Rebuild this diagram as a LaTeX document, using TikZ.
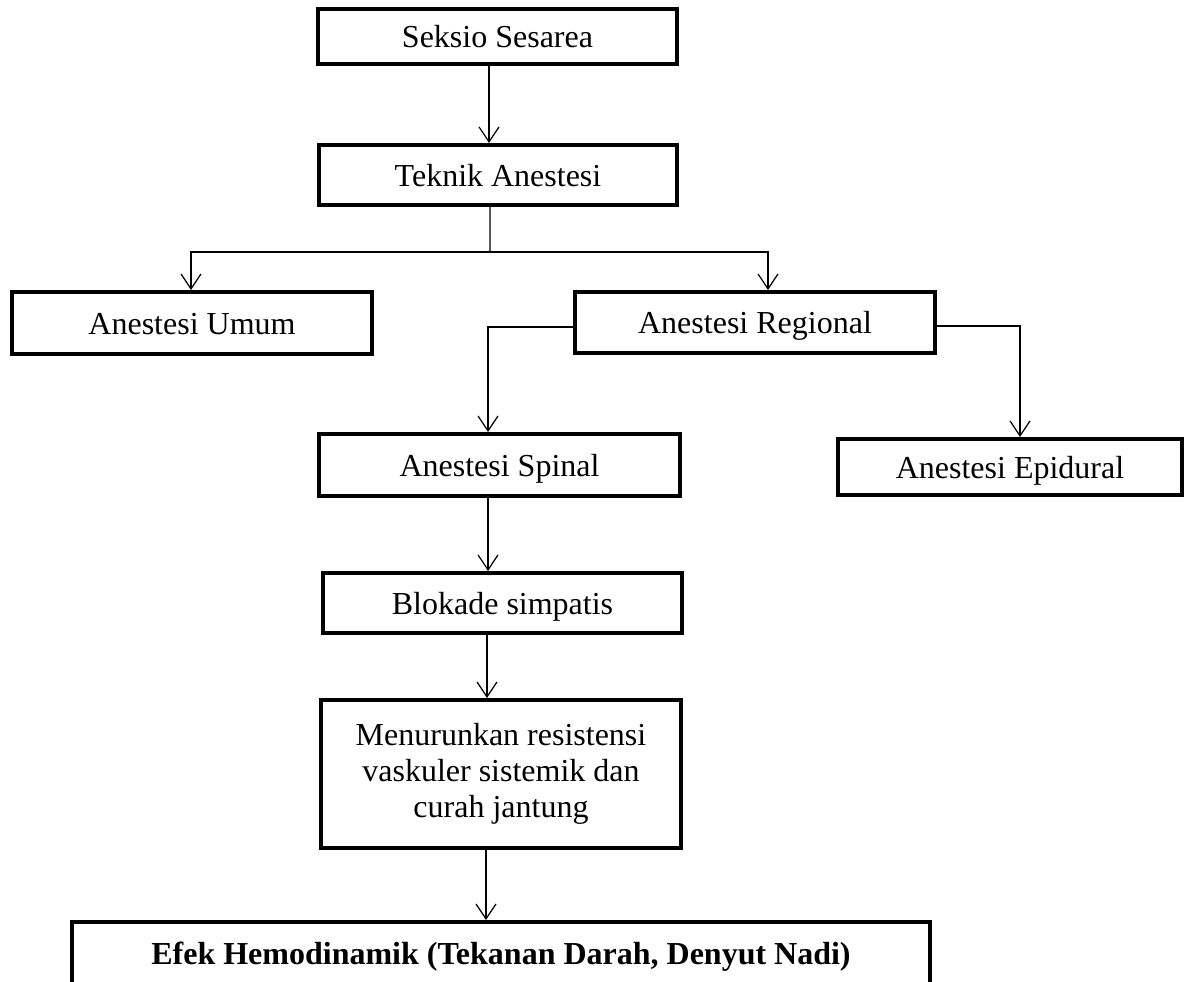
\documentclass[tikz,border=0pt]{standalone}
\usepackage{fontspec}
\setmainfont{Liberation Serif}
\usetikzlibrary{arrows.meta}
\begin{document}
\begin{tikzpicture}[x=1bp,y=-1bp,
  box/.style={draw, line width=4bp, inner sep=0pt, align=center,
    font=\fontsize{32bp}{36bp}\selectfont, text height=22bp, text depth=0pt},
  multibox/.style={draw, line width=4bp, inner sep=0pt, align=center,
    font=\fontsize{32bp}{36bp}\selectfont},
  conn/.style={line width=1.2bp},
  arr/.style={conn, -{Straight Barb[length=15bp,width=20bp]}}
]
\useasboundingbox (0,0) rectangle (1185,982);
\clip (0,0) rectangle (1185,982);
\fill[white] (0,0) rectangle (1185,982);

\node[box, minimum width=359bp, minimum height=55bp] (seksio) at (497.5,36.5) {Seksio Sesarea};
\node[box, minimum width=358bp, minimum height=60bp] (teknik) at (498,175) {Teknik Anestesi};
\node[box, minimum width=360bp, minimum height=62bp] (umum) at (192,323) {Anestesi Umum};
\node[box, minimum width=360bp, minimum height=61bp] (regional) at (755,322.5) {Anestesi Regional};
\node[box, minimum width=361bp, minimum height=62bp] (spinal) at (499.5,465) {Anestesi Spinal};
\node[box, minimum width=344bp, minimum height=56bp] (epidural) at (1010,467) {Anestesi Epidural};
\node[box, minimum width=359bp, minimum height=60bp] (blokade) at (502.5,603) {Blokade simpatis};
\node[multibox, minimum width=360bp, minimum height=148bp] (menurun) at (501,774) {Menurunkan resistensi\\vaskuler sistemik dan\\curah jantung};
\node[box, minimum width=858bp, minimum height=62bp] (efek) at (501,953) {\bfseries Efek Hemodinamik (Tekanan Darah, Denyut Nadi)};

\coordinate (bus) at (490,252);

\draw[arr] ([xshift=-8.5bp]seksio.south) -- ([xshift=-8.5bp]seksio.south |- teknik.north);
\draw[conn] ([xshift=-8bp]teknik.south) -- (bus);
\draw[arr] (bus) -| ([xshift=-1bp]umum.north);
\draw[arr] (bus) -| ([xshift=13bp]regional.north);
\draw[arr] ([yshift=-4.5bp]regional.west) -| ([xshift=-11.5bp]spinal.north);
\draw[arr] ([yshift=-3.5bp]regional.east) -| ([xshift=10bp]epidural.north);
\draw[arr] ([xshift=-11.5bp]spinal.south) -- ([xshift=-11.5bp]spinal.south |- blokade.north);
\draw[arr] ([xshift=-15.5bp]blokade.south) -- ([xshift=-15.5bp]blokade.south |- menurun.north);
\draw[arr] ([xshift=-15bp]menurun.south) -- ([xshift=-15bp]menurun.south |- efek.north);
\end{tikzpicture}
\end{document}
